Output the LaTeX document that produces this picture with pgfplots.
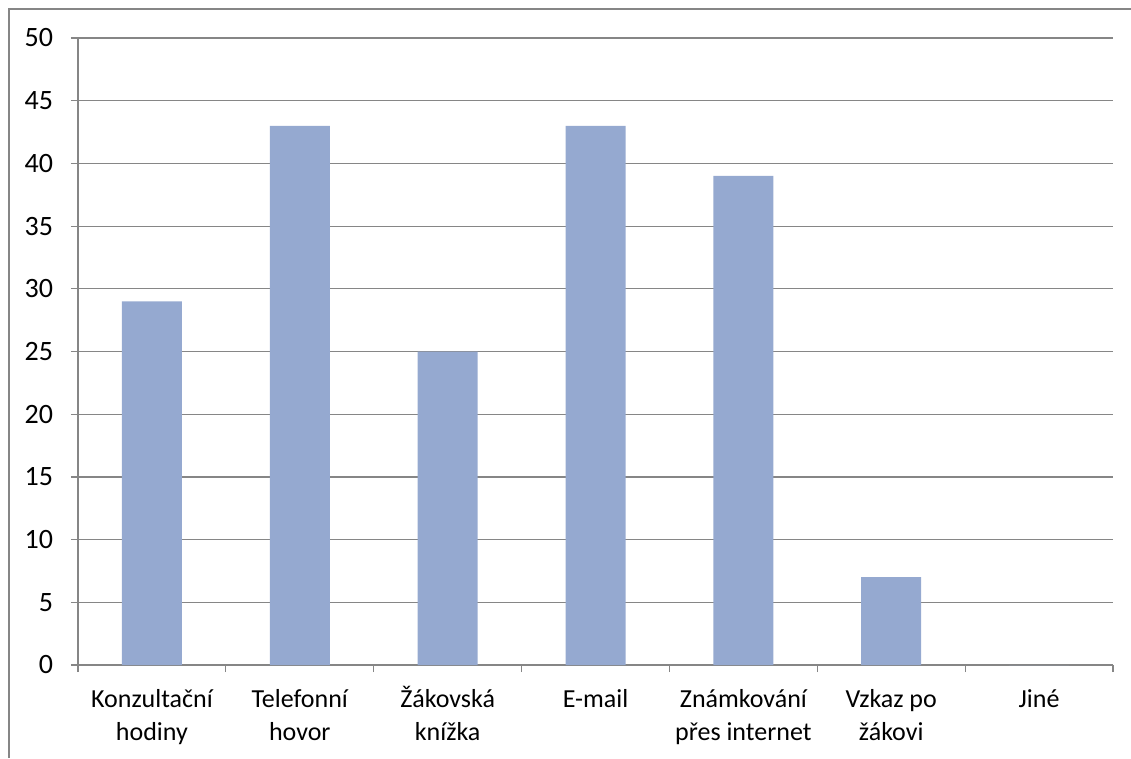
\documentclass[border=0pt]{standalone}
\usepackage{pgfplots}
\pgfplotsset{compat=1.18}
\usepackage{fontspec}
\setmainfont{Carlito}
\definecolor{barblue}{RGB}{149,169,208}
\definecolor{axisgray}{RGB}{134,134,134}
\newcommand{\labelfont}{\fontsize{19.5}{24.75}\selectfont}
\newcommand{\numfont}{\fontsize{21}{24.75}\selectfont}
% fixed first-line height so accented labels line up
\newcommand{\fl}{\rule{0pt}{19pt}}
\begin{document}
\begin{tikzpicture}[x=1pt,y=1pt]
\useasboundingbox (0,0) rectangle (848.25,568.5);
% outer chart frame
\draw[axisgray, line width=0.9pt] (6.75,0) -- (6.75,561.75) -- (849,561.75);
\begin{axis}[
  at={(58.5pt,69.75pt)}, anchor=south west,
  scale only axis,
  width=776.25pt, height=470.25pt,
  xmin=-0.5, xmax=6.5,
  ymin=0, ymax=50,
  ytick={0,5,...,50},
  yticklabels={0,5,10,15,20,25,30,35,40,45,50},
  xtick={0,1,2,3,4,5,6},
  xticklabels={{\fl Konzultační\\hodiny},{\fl Telefonní\\hovor},{\fl Žákovská\\knížka},{\fl E-mail},{\fl Známkování\\přes internet},{\fl Vzkaz po\\žákovi},{\fl Jiné}},
  extra x ticks={-0.5,0.5,1.5,2.5,3.5,4.5,5.5,6.5},
  extra x tick labels={},
  extra x tick style={major tick length=5.25pt, tick align=outside, xtick style={draw=axisgray, line width=0.9pt}},
  xtick style={draw=none},
  ytick style={draw=axisgray, line width=0.9pt},
  tick align=outside,
  major tick length=5.25pt,
  axis x line*=bottom,
  axis y line*=left,
  axis line style={draw=axisgray, line width=0.9pt, -},
  ymajorgrids,
  grid style={draw=axisgray, line width=0.9pt},
  xticklabel style={font=\labelfont, text=black, align=center, anchor=north, yshift=-4pt},
  yticklabel style={font=\numfont, text=black, anchor=east, xshift=-10pt},
  ybar, bar width=45pt,
]
\addplot[fill=barblue, draw=none, bar shift=0pt] coordinates {
  (0,29) (1,43) (2,25) (3,43) (4,39) (5,7) (6,0)
};
\end{axis}
\end{tikzpicture}
\end{document}
